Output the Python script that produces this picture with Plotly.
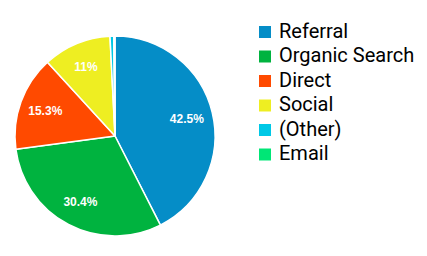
import plotly.graph_objects as go

labels = ["Referral", "Organic Search", "Direct", "Social", "(Other)", "Email"]
values = [42.5, 30.4, 15.3, 11.0, 0.6, 0.2]
colors = ["#058DC7", "#00B33F", "#FF4A00", "#EEEE22", "#00C8E6", "#00E676"]
slice_text = ["42.5%", "30.4%", "15.3%", "11%", "", ""]

W, H = 427, 256
dom = dict(x=[15/W, 215/W], y=[20/H, 220/H])
fig = go.Figure()
fig.add_trace(go.Pie(
    labels=labels, values=values, sort=False, direction="clockwise", rotation=0,
    marker=dict(colors=colors, line=dict(color="white", width=1.5)),
    textinfo="none", domain=dom, hoverinfo="label+percent", showlegend=False,
))
# transparent ring overlay used only to place slice labels further out
fig.add_trace(go.Pie(
    labels=labels, values=values, sort=False, direction="clockwise", rotation=0,
    hole=0.48,
    marker=dict(colors=["rgba(0,0,0,0)"] * len(labels), line=dict(width=0)),
    text=slice_text, textinfo="text", textposition="inside",
    insidetextorientation="horizontal",
    textfont=dict(family="Arial, Liberation Sans", size=12, color="white", weight="bold"),
    domain=dom, hoverinfo="skip", showlegend=False,
))

# custom legend (to match row spacing)
row0, step = 32.0, 24.5
shapes, annots = [], []
for i, (lab, col) in enumerate(zip(labels, colors)):
    yc = row0 + i * step
    shapes.append(dict(type="rect", xref="paper", yref="paper",
                       x0=259/W, x1=271/W, y0=1-(yc-6)/H, y1=1-(yc+6)/H,
                       fillcolor=col, line=dict(width=0)))
    annots.append(dict(text=lab, xref="paper", yref="paper", x=277/W, y=1-(yc-1.5)/H,
                       xanchor="left", yanchor="middle", showarrow=False,
                       font=dict(family="Roboto", size=20, color="#000")))

fig.update_layout(
    width=W, height=H, margin=dict(l=0, r=0, t=0, b=0),
    paper_bgcolor="white", plot_bgcolor="white",
    shapes=shapes, annotations=annots,
    uniformtext=dict(minsize=12, mode="show"),
)
fig.write_html("out.html")
